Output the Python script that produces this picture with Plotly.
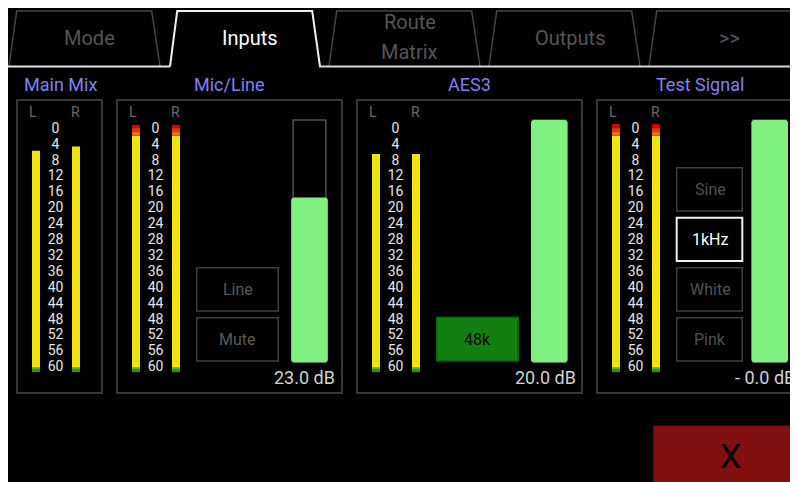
import plotly.graph_objects as go

# ---------------- data ----------------
tab_labels = ["Mode", "Inputs", "Route", "Outputs", ">>"]
tab_sublabels = ["", "", "Matrix", "", ""]
active_tab = 1

section_titles = ["Main Mix", "Mic/Line", "AES3", "Test Signal"]
channel_labels = ["L", "R"]
scale_db = [0, 4, 8, 12, 16, 20, 24, 28, 32, 36, 40, 44, 48, 52, 56, 60]

# meter peak position in dB (lower = louder, -1.3 = full incl. red zone)
meter_left_db = [5.4, -1.1, 6.2, -1.3]
meter_right_db = [4.3, -1.1, 6.2, -1.3]

# fader fill (fraction of travel) for Mic/Line, AES3, Test Signal
fader_level = [0.68, 1.0, 1.0]
fader_text = ["23.0 dB", "20.0 dB", "- 0.0 dB"]

mic_buttons = ["Line", "Mute"]
aes_rate = "48k"
test_buttons = ["Sine", "1kHz", "White", "Pink"]
test_selected = 1
close_label = "X"

# ---------------- layout / styles ----------------
WIN_W, WIN_H = 798, 482
OFF = 8                              # page body margin
W, H = WIN_W, WIN_H                  # figure size (overflows window, cropped)
FONT = "Roboto"
PX0, PX60 = 129.3, 367.7             # screen rows of 0 dB and 60 dB
K = (PX60 - PX0) / 60.0
db_range = [(OFF + H - PX0) / K, (OFF - PX0) / K]
F0, F1 = 362.3, 120.0                # screen rows of fader 0 and 1
fK = F0 - F1
fader_range = [(F0 - OFF - H) / fK, (F0 - OFF) / fK]

zones = [(-1.35, -0.3, "#dc0000"), (-0.3, 0.55, "#e03a10"), (0.55, 1.6, "#f06820"),
         (1.6, 60.0, "#f0e410"), (60.0, 60.35, "#5cb030"), (60.35, 61.1, "#189838")]

box_left = [17, 117, 357, 597]
box_right = [102, 342, 582, 812]
box_top, box_bot = 100, 393
fader_x = [309.5, 549.3, 769.7]
fader_text_x = [337, 577.5, 797]

fig = go.Figure()
shapes = []
ann = []

# tabs
for i, lab in enumerate(tab_labels):
    x0 = 9 + 160 * i
    bl, tl, tr, br = x0, x0 + 7.7, x0 + 142.7, x0 + 151
    if i == active_tab:
        path = f"M {bl+1},66.5 L {tl+0.5},11 L {tr+0.5},11 L {br},66.5"
        shapes.append(dict(type="path", xref="x", yref="y", path=path,
                           line=dict(color="#f0f0f0", width=2)))
    else:
        path = f"M {bl},66 L {tl},11 L {tr},11 L {br},66"
        shapes.append(dict(type="path", xref="x", yref="y", path=path,
                           line=dict(color="#444444", width=1.5)))
    col = "#ffffff" if i == active_tab else "#555555"
    cx = (bl + br) / 2 + 5
    if tab_sublabels[i]:
        ann.append(dict(x=cx, y=22, text=lab, font=dict(size=20, color=col, family=FONT)))
        ann.append(dict(x=cx, y=52, text=tab_sublabels[i], font=dict(size=20, color=col, family=FONT)))
    else:
        ann.append(dict(x=cx, y=38, text=lab, font=dict(size=20, color=col, family=FONT)))

# baseline under tabs
a0 = 9 + 160 * active_tab
shapes.append(dict(type="line", xref="x", yref="y", x0=OFF, x1=a0 + 1, y0=66.5, y1=66.5,
                   line=dict(color="#e6e6e6", width=2)))
shapes.append(dict(type="line", xref="x", yref="y", x0=a0 + 150, x1=OFF + W, y0=66.5, y1=66.5,
                   line=dict(color="#d8d8d8", width=2)))

# section titles
title_x = [None, 229, 469, 700]
for i, t in enumerate(section_titles):
    if i == 0:
        ann.append(dict(x=22, y=84, text=t, xanchor="left",
                        font=dict(size=18, color="#8080f4", family=FONT)))
    else:
        ann.append(dict(x=title_x[i], y=84, text=t,
                        font=dict(size=18, color="#8080f4", family=FONT)))

# section boxes
for l, r in zip(box_left, box_right):
    shapes.append(dict(type="rect", xref="x", yref="y", x0=l, x1=r, y0=box_top, y1=box_bot,
                       line=dict(color="#4a4a4a", width=1.5)))

# meters (bars on dB axis)
meter_x, meter_lvl = [], []
for i, l in enumerate(box_left):
    meter_x += [l + 19, l + 59]
    meter_lvl += [meter_left_db[i], meter_right_db[i]]
for start, end, colr in zones:
    xs, ys, bs = [], [], []
    for x, v in zip(meter_x, meter_lvl):
        if v < end:
            top = max(v, start)
            xs.append(x); ys.append(top - end); bs.append(end)
    if xs:
        fig.add_trace(go.Bar(x=xs, y=ys, base=bs, width=8, yaxis="y2",
                             marker=dict(color=colr, line_width=0),
                             hoverinfo="skip", showlegend=False))

# scale labels
for l in box_left:
    fig.add_trace(go.Scatter(x=[l + 38.5] * len(scale_db), y=scale_db, yaxis="y2",
                             mode="text", text=[str(v) for v in scale_db],
                             textfont=dict(size=14, color="#e6e6e6", family=FONT),
                             hoverinfo="skip", showlegend=False))
    for j, ch in enumerate(channel_labels):
        ann.append(dict(x=l + 16 + 42.5 * j, y=111.5, text=ch,
                        font=dict(size=14, color="#6a6a6a", family=FONT)))

# faders
fig.add_trace(go.Bar(x=fader_x, y=[1, 1, 1], base=[0, 0, 0], width=32.7, yaxis="y3",
                     marker=dict(color="rgba(0,0,0,0)", line=dict(color="#505050", width=1.5)),
                     hoverinfo="skip", showlegend=False))
fig.add_trace(go.Bar(x=fader_x, y=fader_level, base=[0, 0, 0], width=36.7, yaxis="y3",
                     marker=dict(color="#80f080", line_width=0, cornerradius=3),
                     hoverinfo="skip", showlegend=False))
for x, t in zip(fader_text_x, fader_text):
    ann.append(dict(x=x, y=377, text=t, xanchor="right",
                    font=dict(size=18, color="#d2d2d2", family=FONT)))

# Mic/Line buttons
for j, b in enumerate(mic_buttons):
    y0 = 267.7 + 50 * j
    shapes.append(dict(type="rect", xref="x", yref="y", x0=196.7, x1=278.3, y0=y0, y1=y0 + 43.3,
                       line=dict(color="#404040", width=1.5)))
    ann.append(dict(x=237.5, y=y0 + 21.7, text=b, font=dict(size=16, color="#5a5a5a", family=FONT)))

# AES3 rate
shapes.append(dict(type="rect", xref="x", yref="y", x0=436.7, x1=518.3, y0=317.3, y1=361,
                   fillcolor="#118011", line=dict(color="#0b600b", width=1.5)))
ann.append(dict(x=477.5, y=339, text=aes_rate, font=dict(size=16, color="#000000", family=FONT)))

# Test signal buttons
for j, b in enumerate(test_buttons):
    y0 = 167.7 + 50 * j
    sel = j == test_selected
    shapes.append(dict(type="rect", xref="x", yref="y", x0=676.7, x1=742.3, y0=y0, y1=y0 + 43.3,
                       line=dict(color="#f0f0f0" if sel else "#404040", width=2 if sel else 1.5)))
    ann.append(dict(x=710, y=y0 + 21.7, text=b,
                    font=dict(size=16, color="#ffffff" if sel else "#505050", family=FONT)))

# close button
shapes.append(dict(type="rect", xref="x", yref="y", x0=653.3, x1=OFF + W + 2, y0=425.7, y1=OFF + H + 2,
                   fillcolor="#821010", line_width=0))
ann.append(dict(x=730, y=456, text=close_label, font=dict(size=34, color="#000000", family=FONT)))

for a in ann:
    a.setdefault("xref", "x"); a.setdefault("yref", "y")
    a.setdefault("showarrow", False)
    a.setdefault("xanchor", "center"); a.setdefault("yanchor", "middle")

fig.update_layout(
    width=W, height=H, margin=dict(l=0, r=0, t=0, b=0),
    paper_bgcolor="black", plot_bgcolor="black",
    barmode="overlay", showlegend=False,
    xaxis=dict(range=[OFF, OFF + W], visible=False, fixedrange=True),
    yaxis=dict(range=[OFF + H, OFF], visible=False, fixedrange=True),
    yaxis2=dict(range=db_range, overlaying="y", anchor="x", visible=False, fixedrange=True),
    yaxis3=dict(range=fader_range, overlaying="y", anchor="x", visible=False, fixedrange=True),
    shapes=shapes, annotations=ann,
    font=dict(family=FONT),
)

fig.write_html("out.html", config={"displayModeBar": False},
               post_script="document.body.style.overflow='hidden';")
